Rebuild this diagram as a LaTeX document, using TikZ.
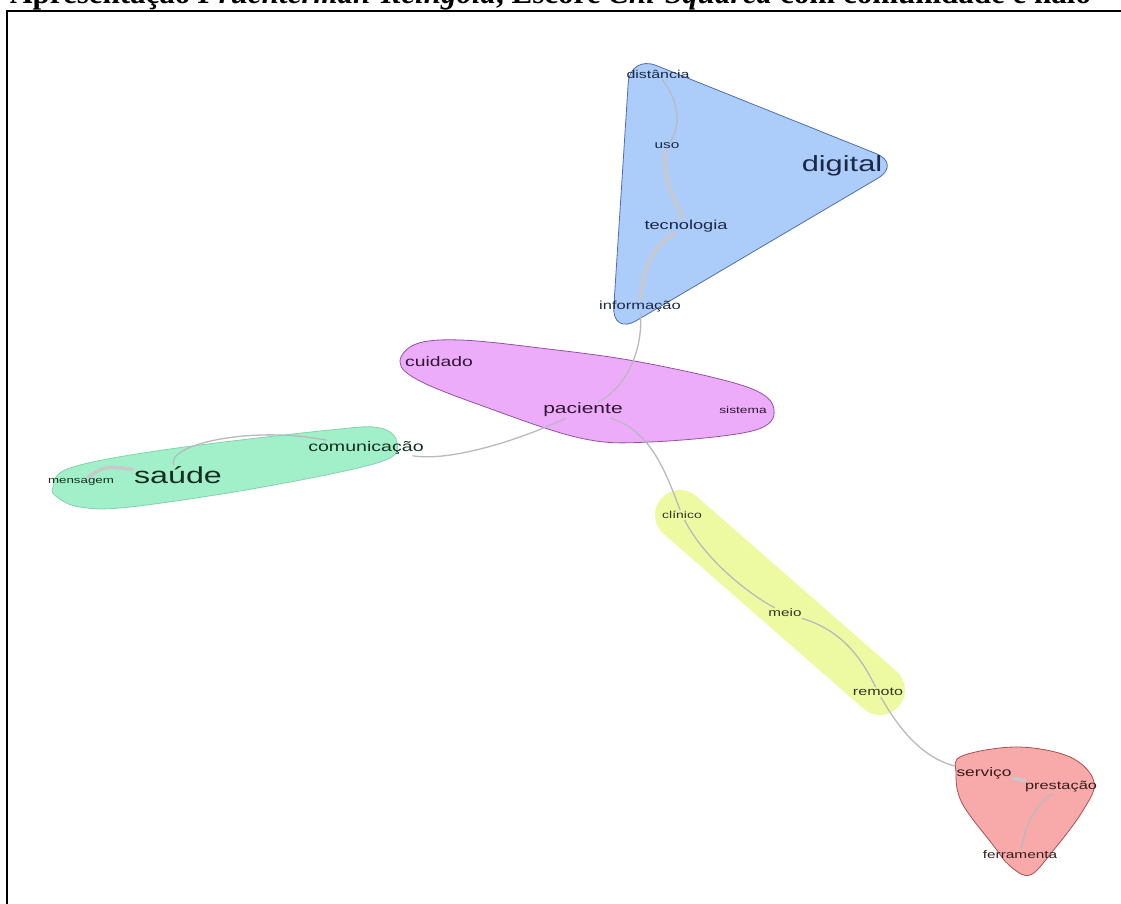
\documentclass[tikz,border=0pt]{standalone}
\usepackage{fontspec}
\usepackage{graphicx}
\newfontfamily\labelfont{Liberation Sans}
\newfontfamily\titlefont{Liberation Serif}
\newcommand{\wlabel}[2]{{\fontsize{#1}{#1}\selectfont\scalebox{1.4}[1]{#2}}}
\pgfdeclarelayer{hulls}
\pgfdeclarelayer{links}
\pgfsetlayers{hulls,links,main}
\definecolor{bluefill}{RGB}{172,204,250}
\definecolor{blueline}{RGB}{80,110,175}
\definecolor{pinkfill}{RGB}{236,172,250}
\definecolor{pinkline}{RGB}{150,80,165}
\definecolor{greenfill}{RGB}{162,240,202}
\definecolor{greenline}{RGB}{130,210,170}
\definecolor{yellowfill}{RGB}{238,250,162}
\definecolor{redfill}{RGB}{248,170,170}
\definecolor{redline}{RGB}{170,80,80}
\definecolor{linkgray}{RGB}{185,185,190}
\definecolor{heavygray}{RGB}{200,200,205}
\definecolor{bluetext}{RGB}{28,40,68}
\definecolor{pinktext}{RGB}{48,22,50}
\definecolor{greentext}{RGB}{22,46,32}
\definecolor{yellowtext}{RGB}{50,52,36}
\definecolor{redtext}{RGB}{52,28,28}
\begin{document}
\begin{tikzpicture}[x=1pt,y=-1pt,
  word/.style={inner sep=1pt, font=\labelfont},
  link/.style={draw=linkgray, line width=1.3pt},
  heavylink/.style={draw=heavygray, line width=3.5pt, line cap=round},
  hull/.style={line width=0.8pt, line join=round}]
\useasboundingbox (0,0) rectangle (1121,904);
\clip (0,0) rectangle (1121,904);

% title (cut by the top of the page) and frame
\node[anchor=base west, inner sep=0pt, font=\titlefont\bfseries\fontsize{31}{31}\selectfont] (title) at (10,4)
  {Apresentação \textit{Fruchterman-Reingold}, Escore \textit{Chi-Squared} com comunidade e halo};
\draw[line width=2.5pt] (7,904) -- (7,11) -- (1121,11);

% words
\node[word, text=bluetext] (distancia) at (658,74) {\wlabel{11.4}{distância}};
\node[word, text=bluetext] (uso) at (667,146) {\wlabel{11}{uso}};
\node[word, text=bluetext] (digital) at (842,166) {\wlabel{22}{digital}};
\node[word, text=bluetext] (tecnologia) at (686,226) {\wlabel{13}{tecnologia}};
\node[word, text=bluetext] (informacao) at (640,306) {\wlabel{11.8}{informação}};
\node[word, text=pinktext] (cuidado) at (439,362) {\wlabel{13.8}{cuidado}};
\node[word, text=pinktext] (paciente) at (583,410) {\wlabel{15}{paciente}};
\node[word, text=pinktext] (sistema) at (743,410) {\wlabel{9.8}{sistema}};
\node[word, text=greentext] (comunicacao) at (366,448) {\wlabel{14}{comunicação}};
\node[word, text=greentext] (saude) at (178,475) {\wlabel{23}{saúde}};
\node[word, text=greentext] (mensagem) at (81,482) {\wlabel{9.5}{mensagem}};
\node[word, text=yellowtext] (clinico) at (682,515) {\wlabel{10}{clínico}};
\node[word, text=yellowtext] (meio) at (785,613) {\wlabel{10.9}{meio}};
\node[word, text=yellowtext] (remoto) at (878,692) {\wlabel{11.5}{remoto}};
\node[word, text=redtext] (servico) at (984,773) {\wlabel{12.4}{serviço}};
\node[word, text=redtext] (prestacao) at (1061,787) {\wlabel{11.7}{prestação}};
\node[word, text=redtext] (ferramenta) at (1020,855) {\wlabel{11}{ferramenta}};

% community halos
\begin{pgfonlayer}{hulls}
\draw[hull, draw=blueline, fill=bluefill, rounded corners=28pt]
  (630,55) -- (902,164) -- (612,335) -- cycle;
\draw[hull, draw=pinkline, fill=pinkfill] plot[smooth cycle, tension=0.6] coordinates
  {(400,362) (416,344) (460,340) (540,348) (640,362) (747,387) (774,410)
   (752,431) (650,442) (580,438) (480,405) (418,380)};
\draw[hull, draw=greenline, fill=greenfill] plot[smooth cycle, tension=0.6] coordinates
  {(53,487) (70,468) (163,450) (330,430) (380,428) (397,443) (380,462)
   (263,487) (130,507) (80,507) (57,497)};
\draw[line width=50pt, line cap=round, draw=yellowfill] (680,515) -- (880,690);
\draw[hull, draw=redline, fill=redfill] plot[smooth cycle, tension=0.6] coordinates
  {(956,773) (962,756) (1017,747) (1070,757) (1094,782) (1082,812) (1052,852)
   (1030,875) (1010,866) (993,845) (962,803)};
\end{pgfonlayer}

% links
\begin{pgfonlayer}{links}
\draw[link] (distancia) .. controls (678,100) and (682,125) .. (uso);
\draw[heavylink] (uso) .. controls (660,175) and (675,200) .. (tecnologia);
\draw[heavylink] (tecnologia) .. controls (655,245) and (643,265) .. (informacao);
\draw[link] (informacao) .. controls (643,345) and (630,385) .. (paciente);
\draw[link] (paciente) .. controls (520,440) and (450,462) .. (comunicacao);
\draw[link] (saude) .. controls (165,445) and (250,425) .. (comunicacao);
\draw[heavylink] (mensagem) .. controls (105,466) .. (saude);
\draw[link] (paciente) .. controls (650,430) and (665,470) .. (clinico);
\draw[link] (clinico) .. controls (705,560) and (750,595) .. (meio);
\draw[link] (meio) .. controls (840,630) and (860,655) .. (remoto);
\draw[link] (remoto) .. controls (905,740) and (930,760) .. (servico);
\draw[heavylink] (servico) -- (prestacao);
\draw[link] (prestacao) .. controls (1030,810) and (1025,830) .. (ferramenta);
\end{pgfonlayer}
\end{tikzpicture}
\end{document}
